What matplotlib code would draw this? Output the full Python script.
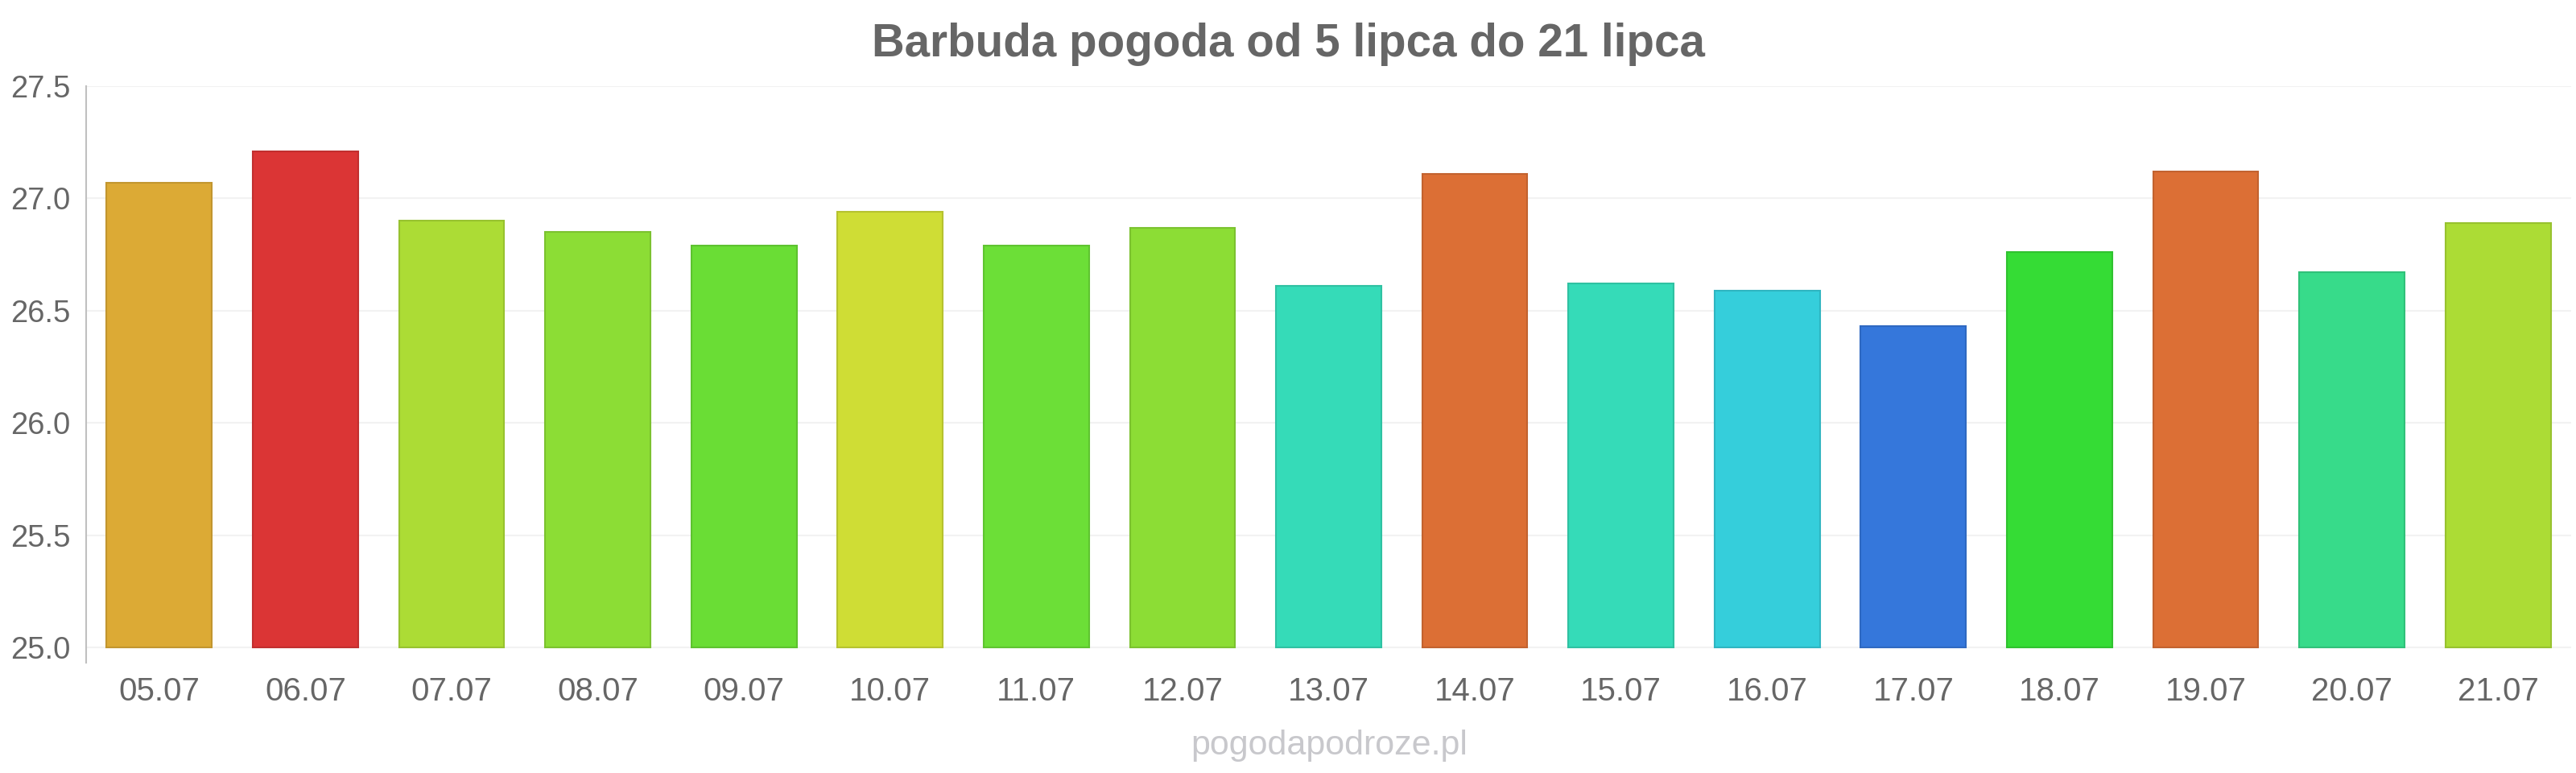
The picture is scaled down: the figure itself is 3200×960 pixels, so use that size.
import matplotlib
matplotlib.use('Agg')
import matplotlib.pyplot as plt
from matplotlib.colors import to_rgb
import numpy as np

days = ['05.07', '06.07', '07.07', '08.07', '09.07', '10.07', '11.07', '12.07', '13.07',
        '14.07', '15.07', '16.07', '17.07', '18.07', '19.07', '20.07', '21.07']
temps = [27.07, 27.21, 26.90, 26.85, 26.79, 26.94, 26.79, 26.87, 26.61,
         27.11, 26.62, 26.59, 26.43, 26.76, 27.12, 26.67, 26.89]
colors = ['#dcaa35', '#db3535', '#acdc35', '#8cdd35', '#6add35', '#cfdd35', '#6cdf37', '#8cdd35', '#35dbb8',
          '#dc6f35', '#35dbb8', '#35cedb', '#3577db', '#35dc35', '#dc6f35', '#37db8a', '#acdc35']
yticks = [25.0, 25.5, 26.0, 26.5, 27.0, 27.5]

plt.rcParams['font.family'] = ['Liberation Sans', 'DejaVu Sans']

fig = plt.figure(figsize=(32, 9.6), dpi=100)
ax = fig.add_axes([107 / 3200, 1 - 823 / 960, (3194 - 107) / 3200, (823 - 107) / 960])

x = np.arange(len(days))
edges = [tuple(c * 0.88 for c in to_rgb(col)) for col in colors]
ax.bar(x, np.array(temps) - 25, bottom=25, width=0.72, color=colors,
       edgecolor=edges, linewidth=1.5, zorder=3)

ax.set_xlim(-0.5, len(days) - 0.5)
ax.set_ylim(25 - 19 / 280, 27.5)
ax.set_yticks(yticks)
ax.set_yticklabels(['%.1f' % t for t in yticks])
ax.set_xticks(x)
ax.set_xticklabels(days)
ax.tick_params(axis='y', length=0, pad=14, labelsize=27.5, labelcolor='#666666')
ax.tick_params(axis='x', length=0, pad=12, labelsize=29, labelcolor='#666666')

ax.grid(axis='y', color='#f2f2f2', linewidth=1.5, zorder=0)
ax.set_axisbelow(True)
for s in ['top', 'right', 'bottom']:
    ax.spines[s].set_visible(False)
ax.spines['left'].set_color('#c0c0c0')
ax.spines['left'].set_linewidth(1.5)

fig.text(0.5, 1 - 55 / 960, 'Barbuda pogoda od 5 lipca do 21 lipca', ha='center', va='center',
         fontsize=40.7, fontweight='bold', color='#666666')
fig.text(1651 / 3200, 1 - 926 / 960, 'pogodapodroze.pl', ha='center', va='center',
         fontsize=31, color='#c8c8cc')

fig.savefig('out.png', dpi=100, facecolor='white')
